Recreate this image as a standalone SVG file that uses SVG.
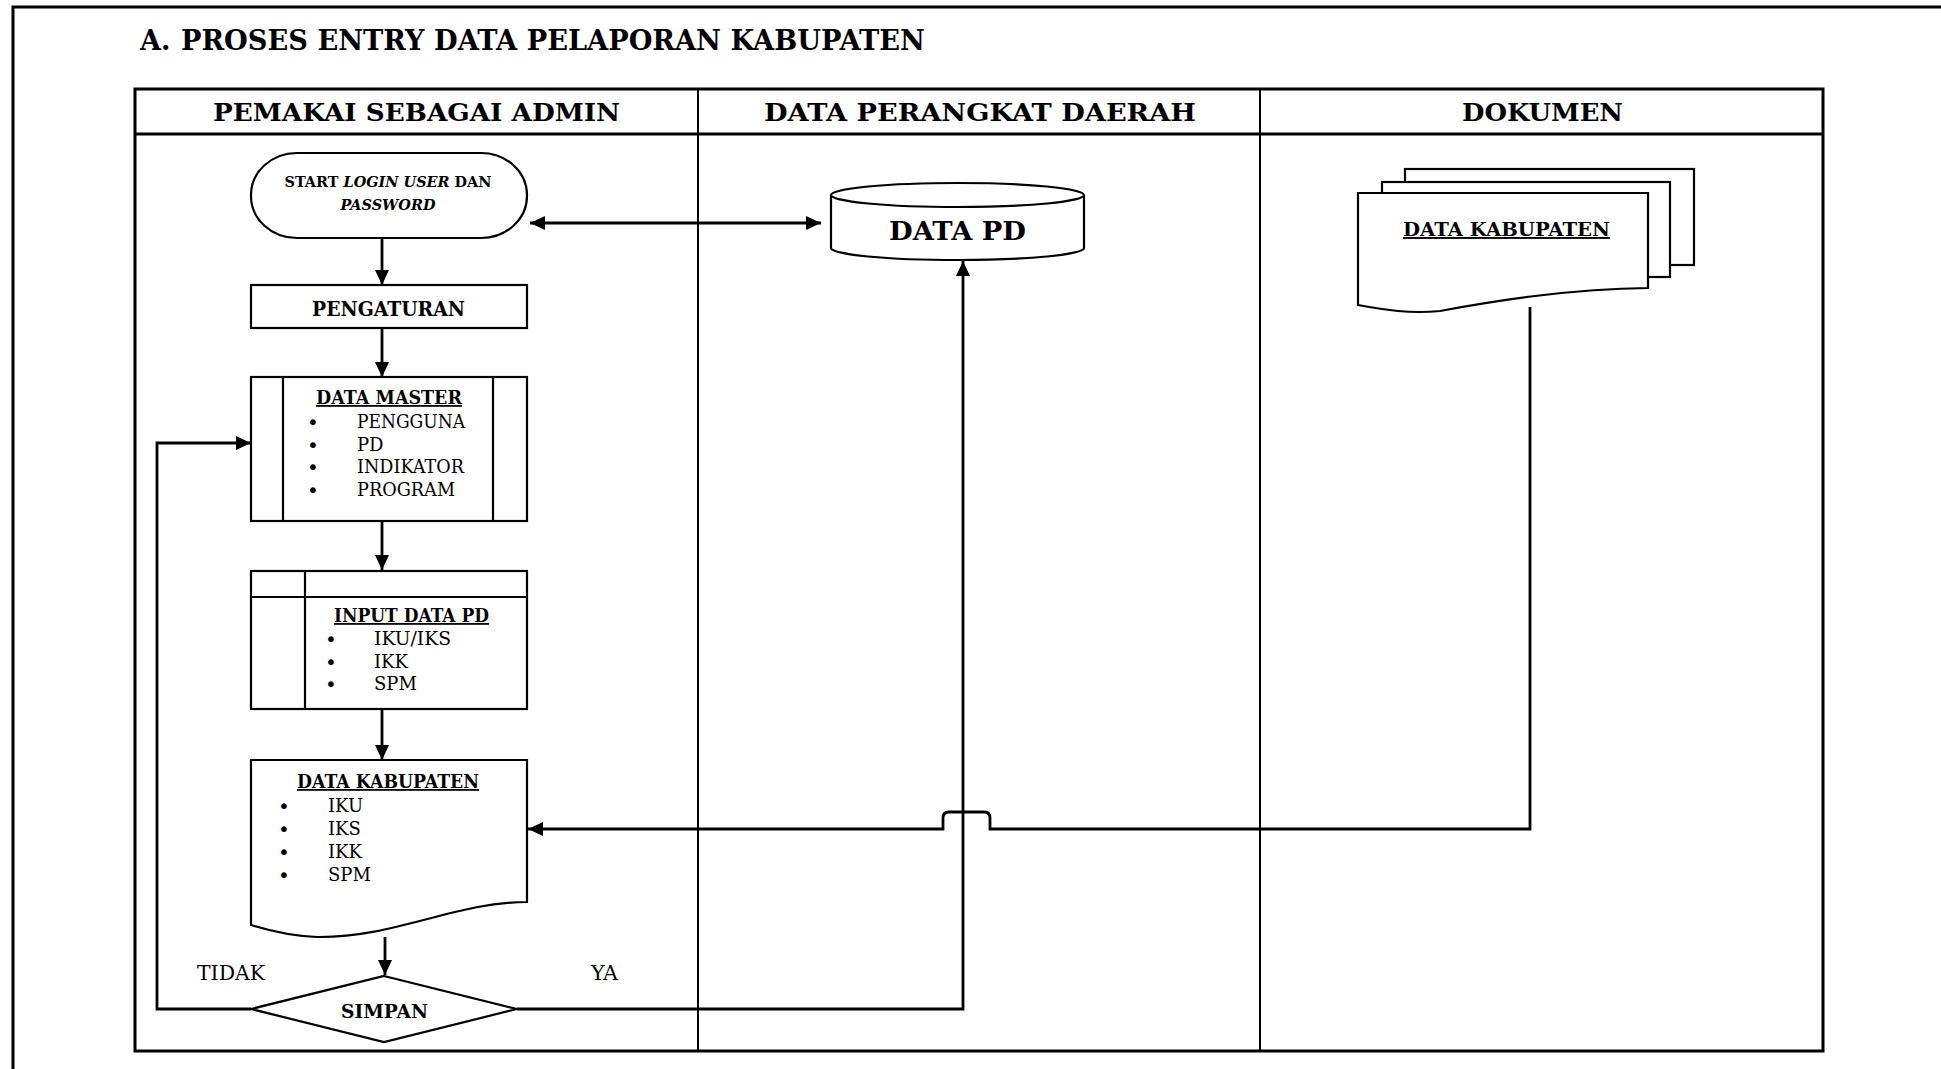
<svg xmlns="http://www.w3.org/2000/svg" width="1941" height="1069" viewBox="0 0 1941 1069">
  <style>
    .frame { fill: none; stroke: #000; stroke-width: 3; }
    .lane { fill: none; stroke: #000; stroke-width: 2; }
    .shape { fill: #fff; stroke: #000; stroke-width: 2.2; }
    .conn { fill: none; stroke: #000; stroke-width: 2.8; }
    .title { font-family: "DejaVu Serif", "Liberation Serif", serif; font-weight: bold; fill: #000; }
    .body { font-family: "DejaVu Serif", "Liberation Serif", serif; fill: #000; }
    .dot { font-family: "DejaVu Sans", "Liberation Sans", sans-serif; font-size: 20px; fill: #000; }
    .mid { text-anchor: middle; }
  </style>
  <defs>
    <marker id="arrow" markerUnits="userSpaceOnUse" markerWidth="16" markerHeight="16" refX="15" refY="8" orient="auto-start-reverse">
      <path d="M0,1 L15,8 L0,15 z" fill="#000"/>
    </marker>
  </defs>

  <rect width="1941" height="1069" fill="#fff"/>

  <!-- page frame -->
  <rect class="frame" x="13" y="7" width="1960" height="1100"/>

  <text class="title" x="140" y="50" font-size="27">A.</text>
  <text class="title" x="181" y="50" font-size="27" textLength="744" lengthAdjust="spacingAndGlyphs">PROSES ENTRY DATA PELAPORAN KABUPATEN</text>

  <!-- swimlane table -->
  <g id="lanes">
    <rect class="frame" x="135" y="89" width="1688" height="962"/>
    <line class="frame" x1="135" y1="134" x2="1823" y2="134"/>
    <line class="lane" x1="698" y1="89" x2="698" y2="1051"/>
    <line class="lane" x1="1260" y1="89" x2="1260" y2="1051"/>
    <text class="title mid" x="416.5" y="121" font-size="24" textLength="407" lengthAdjust="spacingAndGlyphs">PEMAKAI SEBAGAI ADMIN</text>
    <text class="title mid" x="980" y="121" font-size="24" textLength="432" lengthAdjust="spacingAndGlyphs">DATA PERANGKAT DAERAH</text>
    <text class="title mid" x="1542.5" y="121" font-size="24" textLength="161" lengthAdjust="spacingAndGlyphs">DOKUMEN</text>
  </g>

  <!-- connectors -->
  <g id="connectors">
    <path class="conn" d="M530,223 H821" marker-start="url(#arrow)" marker-end="url(#arrow)"/>
    <path class="conn" d="M382,238 V285" marker-end="url(#arrow)"/>
    <path class="conn" d="M382,328 V377" marker-end="url(#arrow)"/>
    <path class="conn" d="M382,521 V570" marker-end="url(#arrow)"/>
    <path class="conn" d="M382,709 V760" marker-end="url(#arrow)"/>
    <path class="conn" d="M385,937 V975" marker-end="url(#arrow)"/>
    <path class="conn" d="M251,1009 H157 V443 H251" marker-end="url(#arrow)"/>
    <path class="conn" d="M517,1009 H963 V261" marker-end="url(#arrow)"/>
    <path class="conn" d="M1530,307 V829 H990 V818 Q990,812 984,812 H949 Q943,812 943,818 V829 H528" marker-end="url(#arrow)"/>
  </g>

  <!-- start: login -->
  <g id="start">
    <rect class="shape" x="251" y="153" width="276" height="85" rx="46" ry="42"/>
    <text class="title mid" x="388" y="187" font-size="15" textLength="207" lengthAdjust="spacingAndGlyphs">START <tspan font-style="italic">LOGIN USER</tspan> DAN</text>
    <text class="title mid" x="388" y="210" font-size="15" font-style="italic" textLength="95" lengthAdjust="spacingAndGlyphs">PASSWORD</text>
  </g>

  <!-- settings -->
  <g id="pengaturan">
    <rect class="shape" x="251" y="285" width="276" height="43"/>
    <text class="title mid" x="388.5" y="316" font-size="20" textLength="153" lengthAdjust="spacingAndGlyphs">PENGATURAN</text>
  </g>

  <!-- master data (predefined process) -->
  <g id="data-master">
    <rect class="shape" x="251" y="377" width="276" height="144"/>
    <line class="shape" x1="283" y1="377" x2="283" y2="521"/>
    <line class="shape" x1="493" y1="377" x2="493" y2="521"/>
    <text class="title mid" x="389" y="404" font-size="18" text-decoration="underline" textLength="146" lengthAdjust="spacingAndGlyphs">DATA MASTER</text>
    <g class="body" font-size="18">
      <text class="dot" x="307" y="429">•</text><text x="357" y="428" textLength="108" lengthAdjust="spacingAndGlyphs">PENGGUNA</text>
      <text class="dot" x="307" y="452">•</text><text x="357" y="451">PD</text>
      <text class="dot" x="307" y="474">•</text><text x="357" y="473" textLength="107" lengthAdjust="spacingAndGlyphs">INDIKATOR</text>
      <text class="dot" x="307" y="497">•</text><text x="357" y="496" textLength="98" lengthAdjust="spacingAndGlyphs">PROGRAM</text>
    </g>
  </g>

  <!-- PD data input (internal storage) -->
  <g id="input-data-pd">
    <rect class="shape" x="251" y="571" width="276" height="138"/>
    <line class="shape" x1="251" y1="597" x2="527" y2="597"/>
    <line class="shape" x1="305" y1="571" x2="305" y2="709"/>
    <text class="title mid" x="411.5" y="622" font-size="18" text-decoration="underline" textLength="155" lengthAdjust="spacingAndGlyphs">INPUT DATA PD</text>
    <g class="body" font-size="18">
      <text class="dot" x="325" y="646">•</text><text x="374" y="645" textLength="77" lengthAdjust="spacingAndGlyphs">IKU/IKS</text>
      <text class="dot" x="325" y="669">•</text><text x="374" y="668">IKK</text>
      <text class="dot" x="325" y="691">•</text><text x="374" y="690">SPM</text>
    </g>
  </g>

  <!-- regency data (document) -->
  <g id="data-kabupaten">
    <path class="shape" d="M251,760 H527 V902 C455,902 395,938 317,937 C290,936 270,931 251,925 Z"/>
    <text class="title mid" x="388" y="788" font-size="18" text-decoration="underline" textLength="182" lengthAdjust="spacingAndGlyphs">DATA KABUPATEN</text>
    <g class="body" font-size="18">
      <text class="dot" x="278" y="813">•</text><text x="328" y="812">IKU</text>
      <text class="dot" x="278" y="836">•</text><text x="328" y="835">IKS</text>
      <text class="dot" x="278" y="859">•</text><text x="328" y="858">IKK</text>
      <text class="dot" x="278" y="882">•</text><text x="328" y="881">SPM</text>
    </g>
  </g>

  <!-- save decision -->
  <g id="simpan">
    <path class="shape" d="M384,976 L517,1009 L384,1042 L251,1009 Z"/>
    <text class="title mid" x="384.5" y="1018" font-size="19" textLength="87" lengthAdjust="spacingAndGlyphs">SIMPAN</text>
    <text class="body" x="197" y="980" font-size="20" textLength="68" lengthAdjust="spacingAndGlyphs">TIDAK</text>
    <text class="body" x="591" y="980" font-size="20" textLength="27" lengthAdjust="spacingAndGlyphs">YA</text>
  </g>

  <!-- PD database (cylinder) -->
  <g id="data-pd">
    <path class="shape" d="M831,195 V248 A126.5,12 0 0 0 1084,248 V195"/>
    <ellipse class="shape" cx="957.5" cy="195" rx="126.5" ry="12"/>
    <text class="title mid" x="957.5" y="240" font-size="26" textLength="137" lengthAdjust="spacingAndGlyphs">DATA PD</text>
  </g>

  <!-- regency documents (multi-document) -->
  <g id="dokumen-kabupaten">
    <rect class="shape" x="1405" y="169" width="289" height="96"/>
    <rect class="shape" x="1382" y="182" width="288" height="95"/>
    <path class="shape" d="M1358,193 H1648 V288 C1570,289 1500,300 1440,311 C1410,314 1385,310 1358,305 Z"/>
    <text class="title mid" x="1506.5" y="236" font-size="19" text-decoration="underline" textLength="207" lengthAdjust="spacingAndGlyphs">DATA KABUPATEN</text>
  </g>
</svg>
